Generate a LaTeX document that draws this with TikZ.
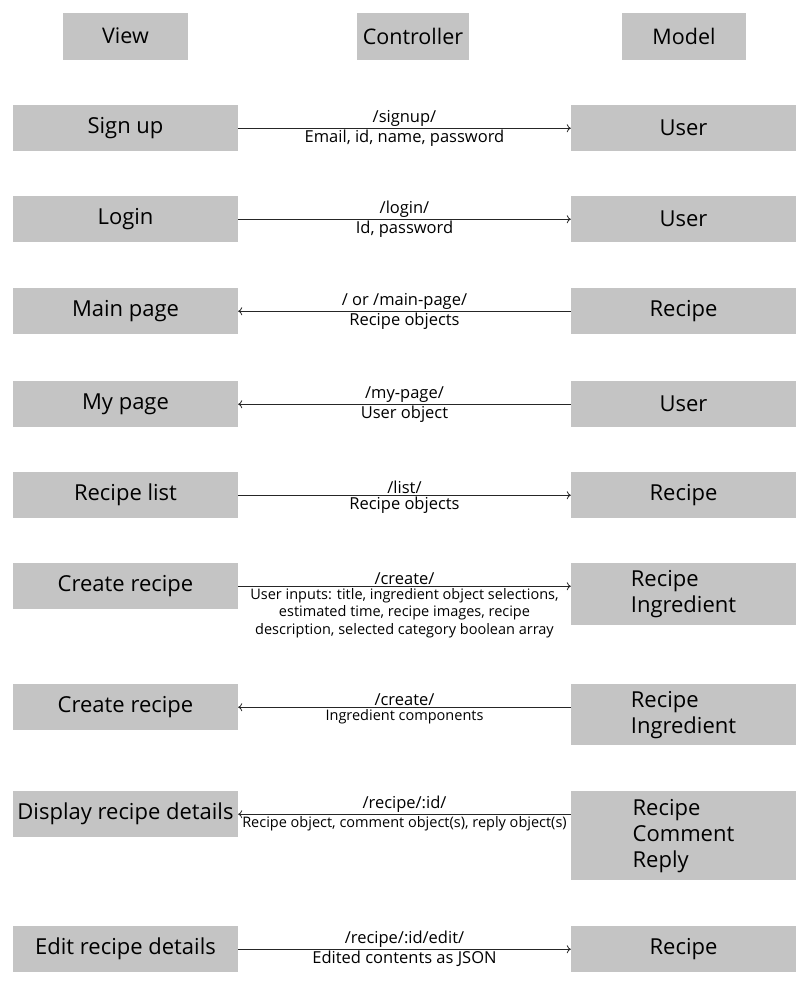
\documentclass[tikz,border=0pt]{standalone}
\usepackage{fontspec}
\setmainfont{Open Sans}
\usetikzlibrary{arrows.meta}
\definecolor{boxgray}{RGB}{196,196,196}
\begin{document}
\begin{tikzpicture}[x=1pt,y=-1pt,
    head/.style={fill=boxgray,minimum height=47pt,inner sep=0pt,font=\fontsize{21.5}{26}\selectfont},
    box/.style={fill=boxgray,anchor=north,minimum width=225pt,minimum height=46pt,inner sep=0pt,align=left,font=\fontsize{22}{26}\selectfont},
    flow/.style={-{To[length=4pt,width=8pt]},line width=0.8pt,draw=black!85},
    lbl/.style={midway,inner sep=1.5pt,font=\fontsize{16.5}{18}\selectfont},
    small/.style={midway,inner sep=1.5pt,align=center,font=\fontsize{14.5}{17.5}\selectfont}]
  \useasboundingbox (0,0) rectangle (808,986);
  % column heads
  \node[head,minimum width=125pt] (view) at (125.5,36) {View};
  \node[head,minimum width=112pt] (ctrl) at (413,36) {Controller};
  \node[head,minimum width=124pt] (model) at (684,36) {Model};

  % views and models
  \node[box] (signup) at (125.5,105) {Sign up};
  \node[box] (user1) at (683.5,105) {User};
  \node[box] (login) at (125.5,196) {Login};
  \node[box] (user2) at (683.5,196) {User};
  \node[box] (main) at (125.5,288) {Main page};
  \node[box] (recipe1) at (683.5,288) {Recipe};
  \node[box] (mypage) at (125.5,381) {My page};
  \node[box] (user3) at (683.5,381) {User};
  \node[box] (list) at (125.5,472) {Recipe list};
  \node[box] (recipe2) at (683.5,472) {Recipe};
  \node[box] (create1) at (125.5,563) {Create recipe};
  \node[box,minimum height=62pt] (recing1) at (683.5,563) {Recipe\\Ingredient};
  \node[box] (create2) at (125.5,684) {Create recipe};
  \node[box,minimum height=61pt] (recing2) at (683.5,684) {Recipe\\Ingredient};
  \node[box] (detail) at (125.5,791) {Display recipe details};
  \node[box,minimum height=89pt] (reccom) at (683.5,791) {Recipe\\Comment\\Reply};
  \node[box] (edit) at (125.5,926) {Edit recipe details};
  \node[box] (recipe3) at (683.5,926) {Recipe};

  % controller routes
  \draw[flow] (signup.east) -- (signup.east -| user1.west)
    node[lbl,above] (r1) {/signup/} node[lbl,below] (d1) {Email, id, name, password};
  \draw[flow] (login.east) -- (login.east -| user2.west)
    node[lbl,above] (r2) {/login/} node[lbl,below] (d2) {Id, password};
  \draw[flow] (main.east -| recipe1.west) -- (main.east)
    node[lbl,above] (r3) {/ or /main-page/} node[lbl,below] (d3) {Recipe objects};
  \draw[flow] (mypage.east -| user3.west) -- (mypage.east)
    node[lbl,above] (r4) {/my-page/} node[lbl,below] (d4) {User object};
  \draw[flow] (list.east) -- (list.east -| recipe2.west)
    node[lbl,above] (r5) {/list/} node[lbl,below] (d5) {Recipe objects};
  \draw[flow] (create1.east) -- (create1.east -| recing1.west)
    node[lbl,above] (r6) {/create/}
    node[small,below] (d6) {User inputs: title, ingredient object selections,\\estimated time, recipe images, recipe\\description, selected category boolean array};
  \draw[flow] (create2.east -| recing2.west) -- (create2.east)
    node[lbl,above] (r7) {/create/} node[small,below] (d7) {Ingredient components};
  \draw[flow] (detail.east -| reccom.west) -- (detail.east)
    node[lbl,above] (r8) {/recipe/:id/} node[small,below] (d8) {Recipe object, comment object(s), reply object(s)};
  \draw[flow] (edit.east) -- (edit.east -| recipe3.west)
    node[lbl,above] (r9) {/recipe/:id/edit/} node[lbl,below] (d9) {Edited contents as JSON};
\end{tikzpicture}
\end{document}
